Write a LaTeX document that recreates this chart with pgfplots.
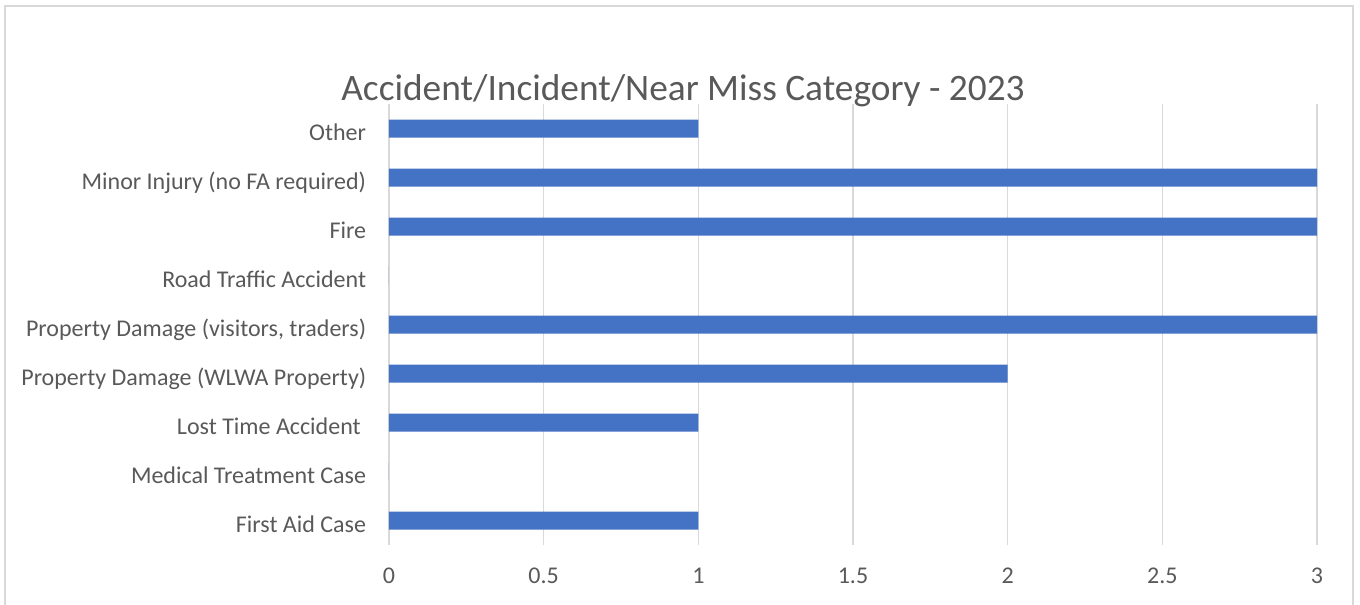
\documentclass[border=0pt]{standalone}
\usepackage{fontspec}
\setmainfont{Carlito}
\usepackage{pgfplots}
\pgfplotsset{compat=1.18}
\definecolor{barblue}{HTML}{4472C4}
\definecolor{txtgray}{HTML}{595959}
\definecolor{gridgray}{HTML}{D9D9D9}
\begin{document}
\begin{tikzpicture}
\useasboundingbox (0,0) rectangle (1020pt,453pt);
% chart frame (bottom edge is cut off in the reference)
\draw[gridgray, line width=1.1pt] (3.75pt,-2pt) -- (3.75pt,448.5pt) -- (1014.75pt,448.5pt) -- (1014.75pt,-2pt);
\node[txtgray, anchor=base, inner sep=0pt, font=\fontsize{28}{31}\selectfont] at (512.25pt,377.25pt)
  {Accident/Incident/Near Miss Category - 2023};
\begin{axis}[
    at={(291.75pt,44.25pt)}, anchor=south west,
    scale only axis,
    width=696pt, height=330.75pt,
    xbar, bar width=13.5pt,
    xmin=0, xmax=3, ymin=-0.5, ymax=8.5,
    enlargelimits=false,
    xtick={0,0.5,...,3},
    ytick={0,...,8},
    yticklabels={{First Aid Case}, {Medical Treatment Case}, {Lost Time Accident\kern4pt}, {Property Damage (WLWA Property)}, {Property Damage (visitors, traders)}, {Road Traffic Accident}, {Fire}, {Minor Injury (no FA required)}, {Other}},
    xmajorgrids,
    grid style={gridgray, line width=1pt},
    axis line style={draw=none},
    major tick length=0pt,
    tick style={draw=none},
    tick label style={txtgray, font=\fontsize{18}{20}\selectfont},
    /pgf/number format/assume math mode=true,
    yticklabel style={anchor=base east, inner sep=0pt, xshift=-17pt, yshift=-8.9pt},
    xticklabel style={anchor=north, inner sep=0pt, yshift=-17pt},
]
\addplot[draw=none, fill=barblue] coordinates {
    (1,0) (0,1) (1,2) (2,3) (3,4) (0,5) (3,6) (3,7) (1,8)
};
\end{axis}
\end{tikzpicture}
\end{document}
